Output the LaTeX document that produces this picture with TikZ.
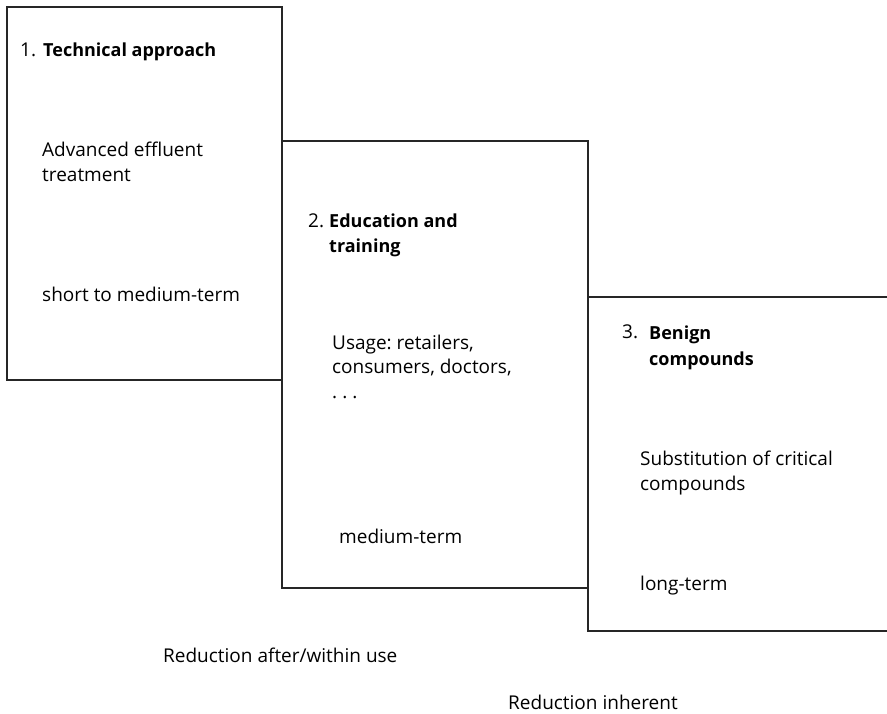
\documentclass[tikz,border=0pt]{standalone}
\usepackage{fontspec}
\setmainfont{Open Sans}
\frenchspacing
\begin{document}
\begin{tikzpicture}[x=1pt,y=-1pt]
\tikzstyle{box}=[draw=black!85,line width=1.2pt]
\tikzstyle{txt}=[anchor=base west,inner sep=0pt,font=\fontsize{19}{25}\selectfont,align=left]
\tikzstyle{head}=[txt,font=\fontsize{18}{25}\selectfont\bfseries]
\useasboundingbox (0,0) rectangle (887,714);

% the three steps
\draw[box] (7,7) rectangle (282,380);
\draw[box] (282,141) rectangle (588,588);
\draw[box] (887,297) -- (588,297) -- (588,631) -- (887,631);

% step 1 (base = last line)
\path (20,57) node[txt](n1){1.} (43,57) node[head](h1){Technical approach};
\path (42,182) node[txt](d1){Advanced effluent\\treatment};
\path (42,302) node[txt](p1){short to medium-term};

% step 2
\path (308,228) node[txt](n2){2.} (329,253) node[head](h2){Education and\\training};
\path (332,399) node[txt](d2){Usage: retailers,\\consumers, doctors,\\.\kern5pt.\kern5pt.};
\path (339,543) node[txt](p2){medium-term};

% step 3
\path (622,338) node[txt](n3){3.} (649,365) node[head](h3){Benign\\compounds};
\path (640,490) node[txt](d3){Substitution of critical\\compounds};
\path (640,590) node[txt](p3){long-term};

% reductions
\path (163,662) node[txt](r1){Reduction after/within use};
\path (508,709) node[txt](r2){Reduction inherent};
\end{tikzpicture}
\end{document}
